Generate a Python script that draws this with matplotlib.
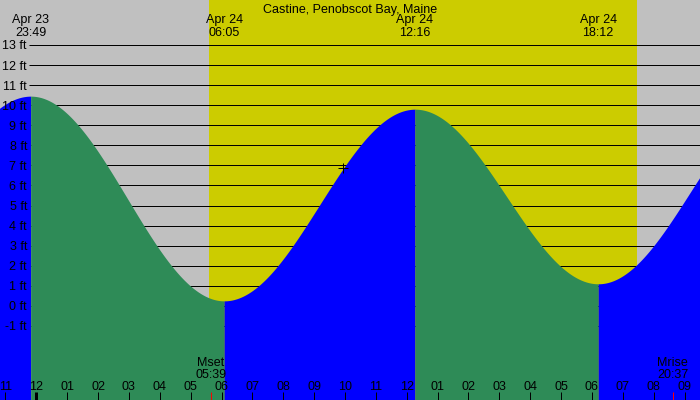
import numpy as np
import matplotlib

matplotlib.use("Agg")
import matplotlib.pyplot as plt
from matplotlib.transforms import offset_copy

plt.rcParams["font.family"] = ["Liberation Sans", "DejaVu Sans"]

# tide extremes, hours since Apr 23 00:00 (first and last are off-chart estimates)
tide_hours = [17.6, 23.817, 30.083, 36.267, 42.2, 48.2]
tide_feet = [0.9, 10.45, 0.25, 9.8, 1.1, 10.3]
label_dates = ["Apr 23", "Apr 24", "Apr 24", "Apr 24"]
label_times = ["23:49", "06:05", "12:16", "18:12"]

sunrise, sunset = 29.594, 43.47
moon_hours = [29.65, 44.617]
moon_names = ["Mset", "Mrise"]
moon_times = ["05:39", "20:37"]
now_hour = 33.945

ft_levels = list(range(-1, 14))
hour_ticks = list(range(23, 46))

x_lo, x_hi = 22.824, 45.5
y_lo, y_hi = -4.69, 15.24
W, H = 700, 400

BG = "#c0c0c0"
DAY = "#cccc00"
FALL = "#2e8b57"
RISE = "#0000ff"


def tide_curve(t):
    """Cosine interpolation between consecutive extremes."""
    out = np.empty_like(t)
    for i in range(len(tide_hours) - 1):
        t0, t1 = tide_hours[i], tide_hours[i + 1]
        h0, h1 = tide_feet[i], tide_feet[i + 1]
        m = (t >= t0) & (t <= t1)
        frac = (t[m] - t0) / (t1 - t0)
        out[m] = h0 + (h1 - h0) * (1 - np.cos(np.pi * frac)) / 2
    return out


fig = plt.figure(figsize=(W / 100, H / 100), dpi=100)
ax = fig.add_axes([0, 0, 1, 1])
ax.set_xlim(x_lo, x_hi)
ax.set_ylim(y_lo, y_hi)
ax.set_facecolor(BG)
ax.axis("off")
fig.patch.set_facecolor(BG)

ax.axvspan(sunrise, sunset, color=DAY, lw=0, zorder=0)

ytr = ax.get_yaxis_transform()
xtr = ax.get_xaxis_transform()
# text sits a little lower than its nominal centre
ytr_t = offset_copy(ytr, fig=fig, y=-1.5, units="dots")
xtr_t = offset_copy(xtr, fig=fig, y=-1.5, units="dots")
axes_t = offset_copy(ax.transAxes, fig=fig, y=-1.5, units="dots")
px = 0.72  # one pixel in points

ax.hlines(ft_levels, 29 / W, 1, transform=ytr, color="black", lw=px, zorder=1)

for i in range(len(tide_hours) - 1):
    t = np.linspace(tide_hours[i], tide_hours[i + 1], 300)
    color = FALL if tide_feet[i + 1] < tide_feet[i] else RISE
    ax.fill_between(t, y_lo - 1, tide_curve(t), color=color, lw=0, zorder=2)

for v in ft_levels:
    ax.text(27 / W, v, f"{v} ft", transform=ytr_t, ha="right", va="center",
            fontsize=9, zorder=5)

ax.text(0.5, 1 - 8 / H, "Castine, Penobscot Bay, Maine", transform=axes_t,
        ha="center", va="center", fontsize=9, zorder=5)
for t, d, s in zip(tide_hours[1:5], label_dates, label_times):
    ax.text(t, 1 - 19 / H, d, transform=xtr_t, ha="center", va="center", fontsize=9, zorder=5)
    ax.text(t, 1 - 31 / H, s, transform=xtr_t, ha="center", va="center", fontsize=9, zorder=5)

for h in hour_ticks:
    lab = h % 12 or 12
    ax.text(h, 14 / H, f"{lab:02d}", transform=xtr_t,
            ha="center", va="center", fontsize=9, zorder=5)
    ax.vlines(h, 0, 8 / H, transform=xtr, color="black",
              lw=3 * px if h % 24 == 0 else px, zorder=5)

for t, n, s in zip(moon_hours, moon_names, moon_times):
    ax.text(t, 1 - 362 / H, n, transform=xtr_t, ha="center", va="center", fontsize=9, zorder=5)
    ax.text(t, 1 - 373 / H, s, transform=xtr_t, ha="center", va="center", fontsize=9, zorder=5)
    ax.vlines(t, 0, 8 / H, transform=xtr, color="red", lw=px, zorder=5)

now_ft = tide_curve(np.array([now_hour]))[0]
ax.plot([now_hour], [now_ft], marker="+", color="black", ms=7, mew=px, zorder=6)

fig.savefig("out.png", dpi=100, facecolor=BG)
